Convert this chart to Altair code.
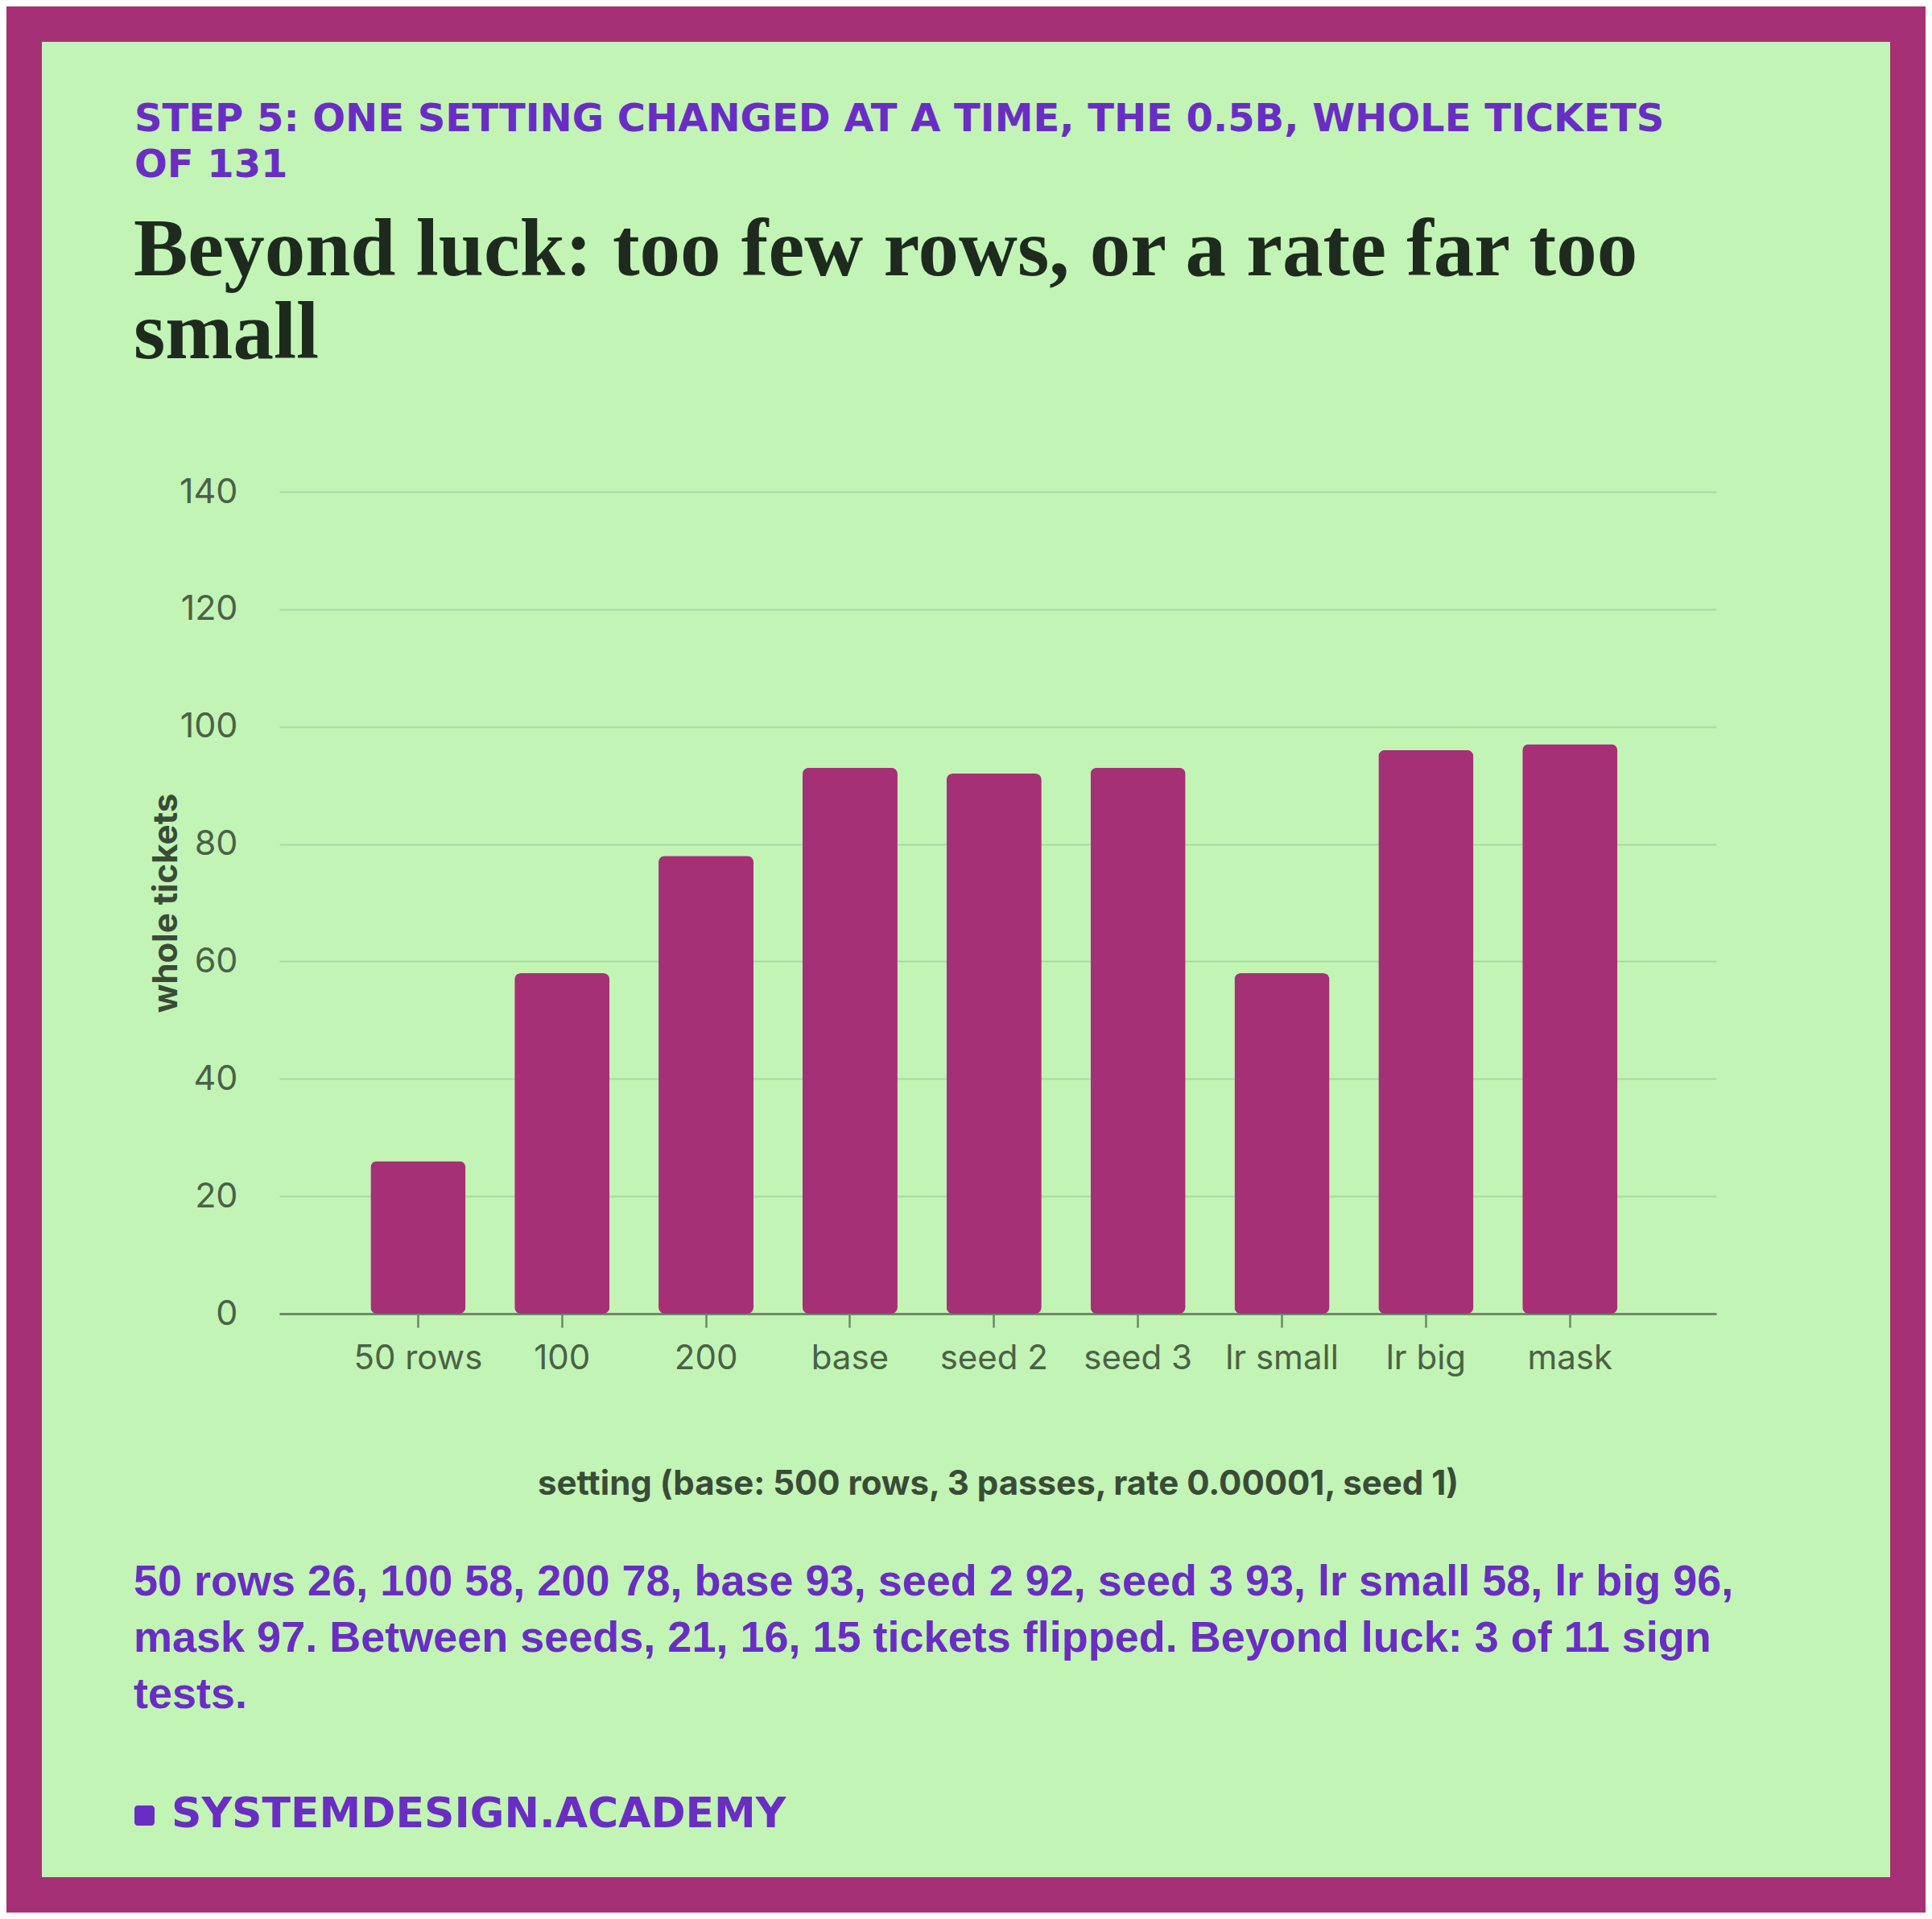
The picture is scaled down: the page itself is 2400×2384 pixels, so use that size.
import altair as alt
import pandas as pd

# ---- data ----
settings = ["50 rows", "100", "200", "base", "seed 2", "seed 3", "lr small", "lr big", "mask"]
tickets = [26, 58, 78, 93, 92, 93, 58, 96, 97]
y_ticks = [0, 20, 40, 60, 80, 100, 120, 140]

kicker_lines = ["STEP 5: ONE SETTING CHANGED AT A TIME, THE 0.5B, WHOLE TICKETS", "OF 131"]
title_lines = ["Beyond luck: too few rows, or a rate far too", "small"]
note_lines = [
    "50 rows 26, 100 58, 200 78, base 93, seed 2 92, seed 3 93, lr small 58, lr big 96,",
    "mask 97. Between seeds, 21, 16, 15 tickets flipped. Beyond luck: 3 of 11 sign",
    "tests.",
]
footer_text = "SYSTEMDESIGN.ACADEMY"
x_title = "setting (base: 500 rows, 3 passes, rate 0.00001, seed 1)"
y_title = "whole tickets"

# ---- style ----
MAGENTA = "#A63075"
GREEN = "#C2F4B6"
PURPLE = "#6A2DC4"
DARK = "#1F2A1F"
LABEL = "#4B6147"
AXTITLE = "#3A4B37"
DOMAIN = "#6A8A65"
GRID = "#A8DA9E"

W, H = 1785, 1021
PAD_L, PAD_T = 339, 603
TOTAL_W, TOTAL_H = 2384, 2368

df = pd.DataFrame({"setting": settings, "tickets": tickets})
one = pd.DataFrame({"k": [0]})

bars = alt.Chart(df).mark_bar(color=MAGENTA, cornerRadius=8).encode(
    x=alt.X(
        "setting:N",
        sort=settings,
        scale=alt.Scale(paddingInner=0.34, paddingOuter=0.66, align=0.48),
        axis=alt.Axis(
            title=x_title,
            labelAngle=0,
            labelFont="Inter",
            labelFontSize=42,
            labelColor=LABEL,
            labelPadding=18,
            domainColor=DOMAIN,
            domainWidth=3,
            tickColor=DOMAIN,
            tickWidth=2.5,
            tickSize=17,
            grid=False,
            titleFont="Inter",
            titleFontSize=42,
            titleFontWeight="bold",
            titleColor=AXTITLE,
            titleBaseline="alphabetic",
            titleX=W / 2,
            titleY=224,
        ),
    ),
    y=alt.Y(
        "tickets:Q",
        scale=alt.Scale(domain=[0, 140], nice=False),
        axis=alt.Axis(
            title=y_title,
            values=y_ticks,
            labelFont="Inter",
            labelFontSize=43,
            labelColor=LABEL,
            labelPadding=52,
            ticks=False,
            tickSize=0,
            domain=False,
            grid=True,
            gridColor=GRID,
            gridWidth=2,
            titleFont="Inter",
            titleFontSize=42,
            titleFontWeight="bold",
            titleColor=AXTITLE,
            titleBaseline="alphabetic",
            titleX=-128,
            titleY=H / 2,
        ),
    ),
)


def text_layer(lines, x, y, font, size, weight, color, lh):
    return alt.Chart(one).mark_text(
        text=lines,
        font=font,
        fontSize=size,
        fontWeight=weight,
        color=color,
        align="left",
        baseline="alphabetic",
        lineHeight=lh,
    ).encode(x=alt.value(x), y=alt.value(y))


kicker = text_layer(kicker_lines, -180, -448, "DejaVu Sans", 48, "bold", PURPLE, 57)
title = text_layer(title_lines, -181, -269, "Liberation Serif", 101, "bold", DARK, 103)
note = text_layer(note_lines, -181, 1371, "Liberation Sans", 54, "bold", PURPLE, 70)
footer = text_layer([footer_text], -134, 1659, "DejaVu Sans", 52, "bold", PURPLE, 50)

bullet = alt.Chart(one).mark_rect(color=PURPLE, cornerRadius=4).encode(
    x=alt.value(-180), x2=alt.value(-155), y=alt.value(1632), y2=alt.value(1657)
)

border = alt.Chart(one).mark_rect(fillOpacity=0, stroke=MAGENTA, strokeWidth=88).encode(
    x=alt.value(-PAD_L),
    x2=alt.value(TOTAL_W - PAD_L),
    y=alt.value(-PAD_T),
    y2=alt.value(TOTAL_H - PAD_T),
)

chart = (
    alt.layer(bars, kicker, title, note, bullet, footer, border)
    .properties(
        width=W,
        height=H,
        background=GREEN,
        padding={"left": PAD_L, "top": PAD_T, "right": TOTAL_W - PAD_L - W, "bottom": TOTAL_H - PAD_T - H},
        autosize=alt.AutoSizeParams(type="none"),
    )
    .configure_view(strokeWidth=0)
)

chart.save("out.html", embed_options={"renderer": "svg", "actions": False})
